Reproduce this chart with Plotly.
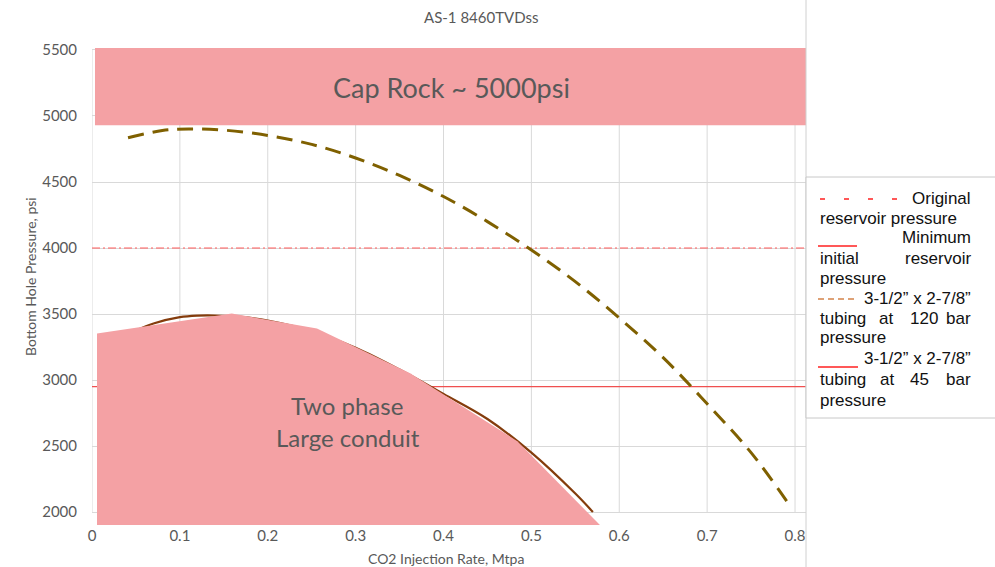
import plotly.graph_objects as go

# ---- data -------------------------------------------------------------
x_ticks = [0, 0.1, 0.2, 0.3, 0.4, 0.5, 0.6, 0.7, 0.8]
x_tick_labels = ["0", "0.1", "0.2", "0.3", "0.4", "0.5", "0.6", "0.7", "0.8"]
y_ticks = [2000, 2500, 3000, 3500, 4000, 4500, 5000, 5500]
y_tick_labels = ["2000", "2500", "3000", "3500", "4000", "4500", "5000", "5500"]

# 3-1/2" x 2-7/8" tubing at 120 bar
tubing120_rate = [0.041, 0.08, 0.11, 0.15, 0.2, 0.25, 0.3, 0.35, 0.4, 0.45,
                  0.5, 0.55, 0.6, 0.65, 0.7, 0.75, 0.795]
tubing120_bhp = [4835, 4890, 4902, 4893, 4853, 4785, 4682, 4550, 4390, 4200,
                 3985, 3745, 3470, 3170, 2820, 2450, 2040]

# 3-1/2" x 2-7/8" tubing at 45 bar
tubing45_rate = [0.05, 0.07, 0.1, 0.12, 0.14, 0.17, 0.2, 0.25, 0.3, 0.35,
                 0.4, 0.45, 0.5, 0.55, 0.57]
tubing45_bhp = [3375, 3428, 3476, 3488, 3489, 3478, 3450, 3370, 3245, 3080,
                2895, 2705, 2450, 2140, 2000]

# two-phase region, large conduit (polygon outline)
two_phase_rate = [0.0057, 0.0057, 0.159, 0.256, 0.362, 0.484, 0.578, 0.0057]
two_phase_bhp = [1902, 3353, 3504, 3391, 3051, 2537, 1902, 1902]

# cap rock band
cap_rock_rate = [0.0034, 0.8125, 0.8125, 0.0034, 0.0034]
cap_rock_bhp = [4930, 4930, 5515, 5515, 4930]

original_reservoir_pressure = 4000
min_initial_reservoir_pressure = 2950

x_range = [0, 0.8125]
y_range = [1902, 5515]

# ---- styling ----------------------------------------------------------
W, H = 995, 567
PL, PR, PT, PB = 92, 806, 48, 525
GREY = "#595959"
GRID = "#d9d9d9"
PINK = "#f4a1a4"
FONT = "Lato"
LEG_FONT = "Liberation Sans"


def px(x):
    return (x - PL) / (PR - PL)


def py(y):
    return (PB - y) / (PB - PT)


fig = go.Figure()

# reservoir pressure reference lines
fig.add_trace(go.Scatter(
    x=x_range, y=[original_reservoir_pressure] * 2, mode="lines",
    line=dict(color="#ff5a5a", width=1, dash="8px,3px,2px,3px"),
    hoverinfo="skip", showlegend=False))
fig.add_trace(go.Scatter(
    x=x_range, y=[min_initial_reservoir_pressure] * 2, mode="lines",
    line=dict(color="#f05050", width=1.3),
    hoverinfo="skip", showlegend=False))

# tubing curves
fig.add_trace(go.Scatter(
    x=tubing120_rate, y=tubing120_bhp, mode="lines", line_shape="spline",
    line=dict(color="#7f6000", width=3, dash="16px,9px"),
    hoverinfo="skip", showlegend=False))
fig.add_trace(go.Scatter(
    x=tubing45_rate, y=tubing45_bhp, mode="lines", line_shape="spline",
    line=dict(color="#843c0c", width=2.2),
    hoverinfo="skip", showlegend=False))

# shaded regions
fig.add_trace(go.Scatter(
    x=two_phase_rate, y=two_phase_bhp, mode="lines", fill="toself",
    fillcolor=PINK, line=dict(width=0, color=PINK),
    hoverinfo="skip", showlegend=False))
fig.add_trace(go.Scatter(
    x=cap_rock_rate, y=cap_rock_bhp, mode="lines", fill="toself",
    fillcolor=PINK, line=dict(width=0, color=PINK),
    hoverinfo="skip", showlegend=False))

shapes = []
# vertical gridlines (stop at the 2000 psi line)
for xv in x_ticks:
    shapes.append(dict(type="line", xref="x", yref="y", x0=xv, x1=xv,
                       y0=y_ticks[0], y1=y_ticks[-1], layer="below",
                       line=dict(color=GRID, width=1)))
# chart border on the right
shapes.append(dict(type="line", xref="paper", yref="paper",
                   x0=px(806), x1=px(806), y0=py(0), y1=py(567),
                   line=dict(color="#d0d0d0", width=1)))
# legend box
shapes.append(dict(type="rect", xref="paper", yref="paper",
                   x0=px(806), x1=px(1000), y0=py(418), y1=py(177),
                   fillcolor="white", line=dict(color="#c8c8c8", width=1),
                   layer="above"))
# legend samples
shapes.append(dict(type="line", xref="paper", yref="paper",
                   x0=px(820), x1=px(897), y0=py(199), y1=py(199),
                   line=dict(color="#ff2020", width=1.5, dash="5px,19px"),
                   layer="above"))
shapes.append(dict(type="line", xref="paper", yref="paper",
                   x0=px(818), x1=px(857), y0=py(246), y1=py(246),
                   line=dict(color="#ff2020", width=1.5), layer="above"))
shapes.append(dict(type="line", xref="paper", yref="paper",
                   x0=px(818), x1=px(857), y0=py(299), y1=py(299),
                   line=dict(color="#d4824a", width=1.5, dash="6px,4px"),
                   layer="above"))
shapes.append(dict(type="line", xref="paper", yref="paper",
                   x0=px(818), x1=px(858), y0=py(367), y1=py(367),
                   line=dict(color="#ff2020", width=1.5), layer="above"))

annotations = []


def note(text, x, y, size, anchor="center", family=FONT, color=GREY, angle=0):
    annotations.append(dict(text=text, xref="paper", yref="paper",
                            x=px(x), y=py(y), xanchor=anchor, yanchor="middle",
                            showarrow=False, textangle=angle,
                            font=dict(family=family, size=size, color=color)))


note("AS-1 8460TVDss", 482, 17, 15)
note("Cap Rock ~ 5000psi", 451, 87, 27)
note("Two phase", 347, 405, 24)
note("Large conduit", 348, 437, 24)
note("CO2 Injection Rate, Mtpa", 446, 558, 14)
note("Bottom Hole Pressure, psi", 30, 277, 14, angle=-90)

LS = 17
LC = "#111111"
note("Original", 973, 198, LS, "right", LEG_FONT, LC)
note("reservoir pressure", 818, 218, LS, "left", LEG_FONT, LC)
note("Minimum", 973, 238, LS, "right", LEG_FONT, LC)
note("initial", 818, 258, LS, "left", LEG_FONT, LC)
note("reservoir", 973, 258, LS, "right", LEG_FONT, LC)
note("pressure", 818, 278, LS, "left", LEG_FONT, LC)
note("3-1/2\u201d x 2-7/8\u201d", 973, 298, LS, "right", LEG_FONT, LC)
note("tubing", 818, 318, LS, "left", LEG_FONT, LC)
note("at", 886, 318, LS, "center", LEG_FONT, LC)
note("120", 924, 318, LS, "center", LEG_FONT, LC)
note("bar", 973, 318, LS, "right", LEG_FONT, LC)
note("pressure", 818, 338, LS, "left", LEG_FONT, LC)
note("3-1/2\u201d x 2-7/8\u201d", 973, 358, LS, "right", LEG_FONT, LC)
note("tubing", 818, 379, LS, "left", LEG_FONT, LC)
note("at", 887, 379, LS, "center", LEG_FONT, LC)
note("45", 919, 379, LS, "center", LEG_FONT, LC)
note("bar", 973, 379, LS, "right", LEG_FONT, LC)
note("pressure", 818, 400, LS, "left", LEG_FONT, LC)

fig.update_layout(
    width=W, height=H,
    margin=dict(l=PL, r=W - PR, t=PT, b=H - PB, pad=0),
    paper_bgcolor="white", plot_bgcolor="white",
    showlegend=False,
    shapes=shapes, annotations=annotations,
    xaxis=dict(range=x_range, tickvals=x_ticks, ticktext=x_tick_labels,
               showgrid=False, zeroline=False, showline=False, ticks="",
               tickfont=dict(family=FONT, size=15, color=GREY),
               fixedrange=True),
    yaxis=dict(range=y_range, tickvals=y_ticks, ticktext=y_tick_labels,
               showgrid=True, gridcolor=GRID, gridwidth=1,
               zeroline=False, showline=False, ticks="",
               ticklabelstandoff=14,
               tickfont=dict(family=FONT, size=15, color=GREY),
               fixedrange=True),
)

fig.write_html("out.html", config={"displayModeBar": False})
